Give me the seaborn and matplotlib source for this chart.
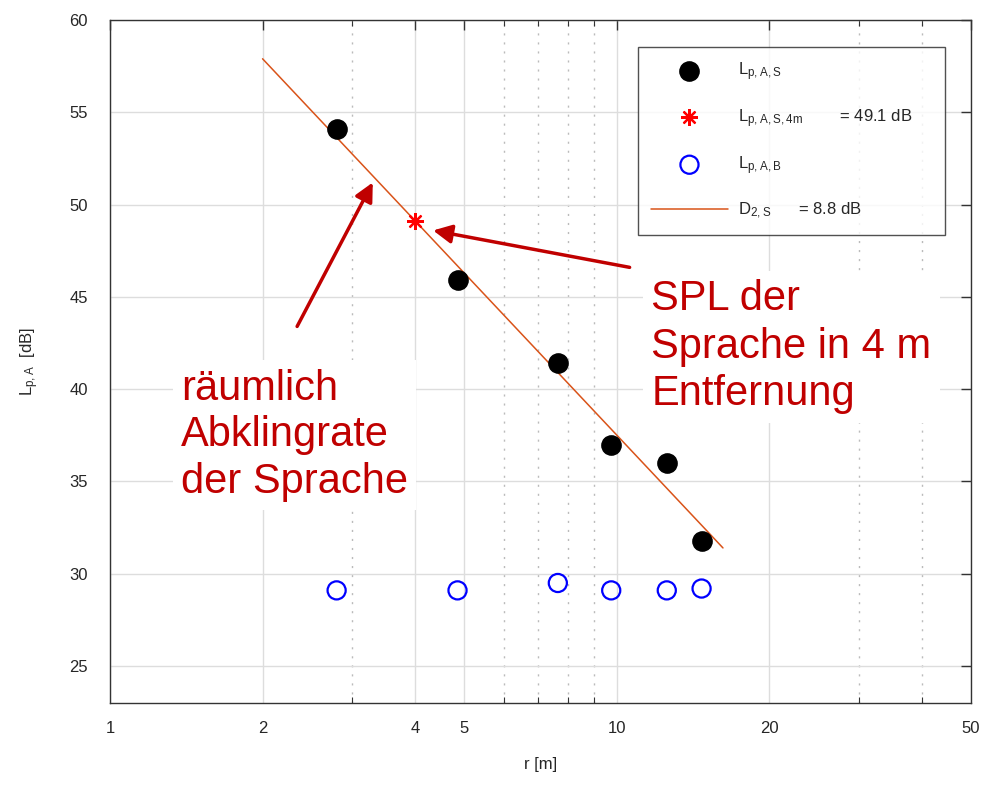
import numpy as np
import matplotlib
matplotlib.use("Agg")
import matplotlib.pyplot as plt
import matplotlib.ticker as mticker
import seaborn as sns

# values
r_meas = [2.8, 4.85, 7.65, 9.75, 12.55, 14.7]
L_speech = [54.1, 45.9, 41.4, 37.0, 36.0, 31.8]
L_background = [29.1, 29.1, 29.5, 29.1, 29.1, 29.2]
r_4m = [4.0]
L_4m = [49.1]
fit_r = [2.0, 16.2]
fit_L = [57.9, 31.4]

x_ticks = [1, 2, 4, 5, 10, 20, 50]
x_minor = [3, 6, 7, 8, 9, 30, 40]
y_ticks = [25, 30, 35, 40, 45, 50, 55, 60]

sns.set_theme(style="white")
plt.rcParams["font.family"] = ["Liberation Sans", "DejaVu Sans"]
plt.rcParams["mathtext.fontset"] = "custom"
plt.rcParams["mathtext.rm"] = "Liberation Sans"

dark_red = "#C00000"
orange = "#D95319"

fig = plt.figure(figsize=(9.84, 7.88), dpi=100)
ax = fig.add_axes([0.1118, 0.1079, 0.8750, 0.8667])

sns.lineplot(x=fit_r, y=fit_L, ax=ax, color=orange, lw=1.1, zorder=3,
             label=r"$\mathregular{D_{2,S}}$      = 8.8 dB")
sns.scatterplot(x=r_meas, y=L_speech, ax=ax, color="black", s=190,
                edgecolor="black", zorder=4,
                label=r"$\mathregular{L_{p,A,S}}$")
ax.plot(r_4m, L_4m, ls="none", marker=(8, 2, 0), ms=12, mew=1.6,
        color="red", zorder=5,
        label=r"$\mathregular{L_{p,A,S,4m}}$        = 49.1 dB")
sns.scatterplot(x=r_meas, y=L_background, ax=ax, facecolor="none",
                edgecolor="blue", linewidth=1.6, s=170, zorder=4,
                label=r"$\mathregular{L_{p,A,B}}$")

ax.set_xscale("log")
ax.set_xlim(1, 50)
ax.set_ylim(23, 60)
ax.xaxis.set_major_locator(mticker.FixedLocator(x_ticks))
ax.xaxis.set_minor_locator(mticker.FixedLocator(x_minor))
ax.xaxis.set_major_formatter(mticker.FixedFormatter([str(t) for t in x_ticks]))
ax.xaxis.set_minor_formatter(mticker.NullFormatter())
ax.set_yticks(y_ticks)

ax.grid(True, which="major", color="#dddddd", lw=1.0, zorder=0)
ax.grid(True, which="minor", axis="x", color="#bbbbbb", lw=1.0,
        ls=(0, (1.5, 5)), zorder=0)
ax.tick_params(which="major", direction="in", length=7, width=1,
               color="#333333", top=True, right=True, labelsize=12,
               labelcolor="#262626")
ax.tick_params(axis="x", which="major", pad=13)
ax.tick_params(axis="y", which="major", pad=16)
ax.tick_params(which="minor", direction="in", length=4, width=0.8,
               color="#333333", top=True, bottom=True)
for sp in ax.spines.values():
    sp.set_color("#333333")
    sp.set_linewidth(1.0)

ax.set_xlabel("r [m]", fontsize=12, color="#262626", labelpad=15)
ax.set_ylabel(r"$\mathregular{L_{p,A}}$  [dB]", fontsize=12, color="#262626",
              labelpad=20)

# legend order as in the reference
handles, labels = ax.get_legend_handles_labels()
order = [1, 2, 3, 0]
leg = ax.legend([handles[i] for i in order], [labels[i] for i in order],
                loc="upper left", bbox_to_anchor=(0.613, 0.960, 0.357, 0.0),
                mode="expand", borderaxespad=0, fontsize=12, frameon=True,
                fancybox=False, edgecolor="#262626", handlelength=4.6,
                labelspacing=1.45, borderpad=0.8, handletextpad=0.6)
leg.get_frame().set_linewidth(1.0)
leg.set_zorder(10)

# annotations
ax.annotate("", xy=(3.30, 51.2), xytext=(2.34, 43.4),
            arrowprops=dict(arrowstyle="-|>", color=dark_red, lw=2.5,
                            mutation_scale=28, shrinkA=0, shrinkB=0),
            zorder=6)
ax.annotate("", xy=(4.34, 48.6), xytext=(10.6, 46.6),
            arrowprops=dict(arrowstyle="-|>", color=dark_red, lw=2.5,
                            mutation_scale=28, shrinkA=0, shrinkB=0),
            zorder=6)
ax.text(1.38, 37.5, "räumlich\nAbklingrate\nder Sprache", fontsize=30,
        color=dark_red, ha="left", va="center", linespacing=1.22,
        bbox=dict(facecolor="white", edgecolor="none", pad=6), zorder=2)
ax.text(11.7, 42.3, "SPL der\nSprache in 4 m\nEntfernung", fontsize=30,
        color=dark_red, ha="left", va="center", linespacing=1.25,
        bbox=dict(facecolor="white", edgecolor="none", pad=6), zorder=2)

fig.savefig("out.png", dpi=100)
